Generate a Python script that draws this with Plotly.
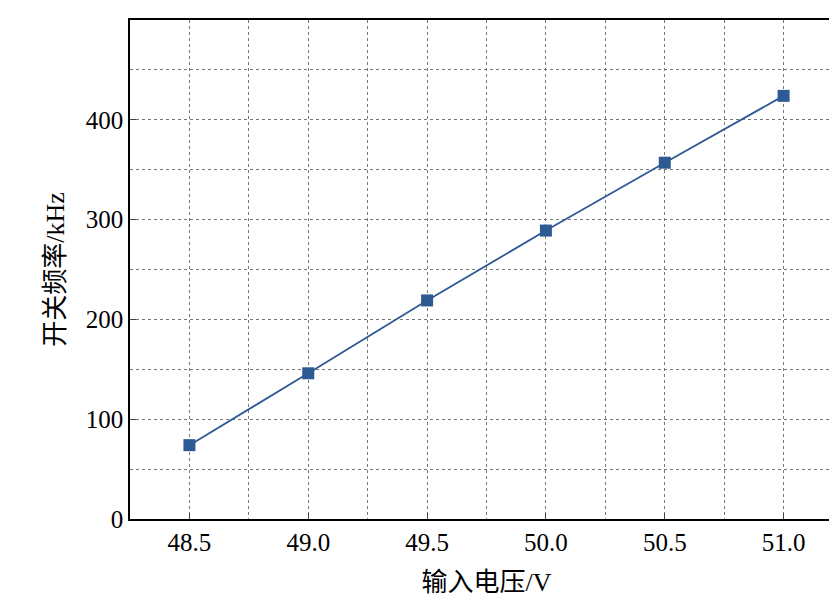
import plotly.graph_objects as go

voltage = [48.5, 49.0, 49.5, 50.0, 50.5, 51.0]
freq = [74, 146, 219, 289, 357, 424]
xticks = [48.5, 49.0, 49.5, 50.0, 50.5, 51.0]
xlabels = ["48.5", "49.0", "49.5", "50.0", "50.5", "51.0"]
yticks = [0, 100, 200, 300, 400, 500]

fig = go.Figure(go.Scatter(
    x=voltage, y=freq, mode="lines+markers",
    line=dict(color="#2e5a94", width=1.8),
    marker=dict(symbol="square", size=12, color="#2e5a94"),
))
font = "Liberation Serif, Noto Sans CJK SC"
fig.update_layout(
    width=837, height=608, margin=dict(l=122, r=2, t=12, b=97),
    plot_bgcolor="white", paper_bgcolor="white", showlegend=False,
    font=dict(family=font, size=25, color="black"),
)
fig.update_xaxes(range=[48.25, 51.25], tickvals=xticks, ticktext=xlabels, automargin=False,
                 showline=True, linecolor="black", linewidth=1.5, mirror=True,
                 ticks="inside", ticklen=6,
                 showgrid=True, gridcolor="#777", griddash="dot", gridwidth=1,
                 minor=dict(dtick=0.25, tick0=48.25, showgrid=True, gridcolor="#777", griddash="dot"),
                 title=dict(text="输入电压/V", font=dict(size=26), standoff=18), zeroline=False)
fig.update_yaxes(range=[0, 500], tickvals=yticks, automargin=False,
                 showline=True, linecolor="black", linewidth=1.5, mirror=True,
                 ticks="inside", ticklen=6,
                 showgrid=True, gridcolor="#777", griddash="dot", gridwidth=1,
                 minor=dict(dtick=50, showgrid=True, gridcolor="#777", griddash="dot"),
                 title=dict(text="开关频率/kHz", font=dict(size=26), standoff=14), zeroline=False)
fig.write_html("out.html")
